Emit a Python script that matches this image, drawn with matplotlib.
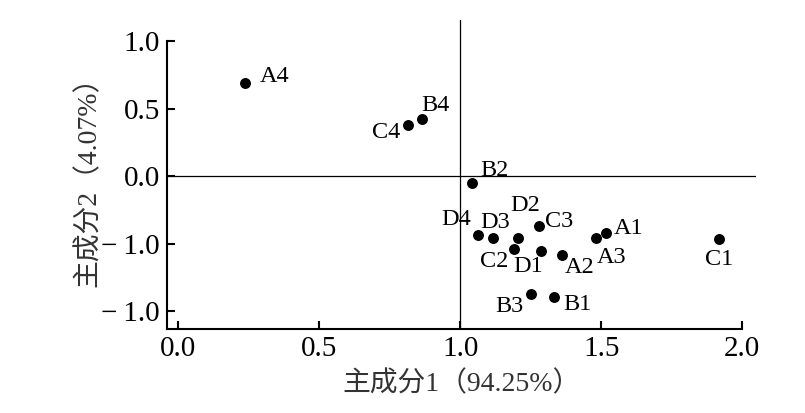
import matplotlib
matplotlib.use("Agg")
import matplotlib.pyplot as plt

plt.rcParams['font.family'] = ['Liberation Serif', 'Noto Sans CJK SC']

labels = ["A4", "B4", "C4", "B2", "D4", "D3", "D2", "C3", "A3", "A1", "C1",
          "C2", "D1", "A2", "B3", "B1"]
pc1 = [0.238, 0.865, 0.816, 1.043, 1.064, 1.117, 1.206, 1.280, 1.481, 1.516, 1.918,
       1.191, 1.288, 1.360, 1.250, 1.333]
pc2 = [0.689, 0.422, 0.378, -0.052, -0.437, -0.459, -0.456, -0.370, -0.456, -0.419, -0.462,
       -0.541, -0.553, -0.585, -0.871, -0.896]

xticks = [0.0, 0.5, 1.0, 1.5, 2.0]
xticklabels = ["0.0", "0.5", "1.0", "1.5", "2.0"]
yticks = [1.0, 0.5, 0.0, -0.5, -1.0]
yticklabels = ["1.0", "0.5", "0.0", "\u2212\u20091.0", "\u2212\u20091.0"]

xlabel = "主成分1（94.25%）"
ylabel = "主成分2（4.07%）"

# label offsets in points (dx, dy, ha)
offsets = {
    "A4": (10, 5, "left"),
    "B4": (-1, 10, "left"),
    "C4": (-6, -5, "right"),
    "B2": (6, 9.5, "left"),
    "D4": (-5, 11, "right"),
    "D3": (-9, 11.5, "left"),
    "D2": (-6, 23, "left"),
    "C3": (4, 3.5, "left"),
    "A3": (0.5, -14, "left"),
    "A1": (6, 3, "left"),
    "C1": (0, -15, "center"),
    "C2": (-4, -9, "right"),
    "D1": (-9.5, -11, "center"),
    "A2": (2, -9, "left"),
    "B3": (-5, -9.5, "right"),
    "B1": (6.5, -5, "left"),
}

fig = plt.figure(figsize=(8.05, 4.13), dpi=100)
ax = fig.add_axes([0.2075, 0.203, 0.732, 0.748])

ax.scatter(pc1, pc2, s=62, color="black", zorder=3, linewidths=0)
for lab, x, y in zip(labels, pc1, pc2):
    dx, dy, ha = offsets[lab]
    ax.annotate(lab, (x, y), xytext=(dx, dy), textcoords="offset points",
                ha=ha, va="center", fontsize=17.5)

ax.set_xlim(-0.04, 2.05)
ax.set_ylim(-1.133, 1.155)
ax.axhline(0, color="black", lw=0.9)
ax.axvline(1.0, color="black", lw=0.9)

for s in ["top", "right"]:
    ax.spines[s].set_visible(False)
ax.spines["left"].set_bounds(-1.133, 1.0)
ax.spines["bottom"].set_bounds(-0.04, 2.0)
ax.spines["left"].set_linewidth(1.5)
ax.spines["bottom"].set_linewidth(1.5)

ax.set_xticks(xticks)
ax.set_xticklabels(xticklabels)
ax.set_yticks(yticks)
ax.set_yticklabels(yticklabels)
ax.tick_params(direction="in", length=6, width=1.5, labelsize=21, pad=5)

ax.set_xlabel(xlabel, fontsize=20, color="#333333", labelpad=6)
ax.set_ylabel(ylabel, fontsize=20, color="#333333", labelpad=0)

fig.savefig("out.png", dpi=100)
